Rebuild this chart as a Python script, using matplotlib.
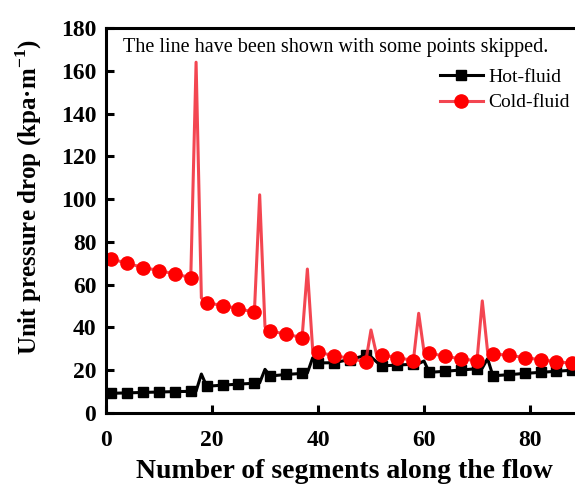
import matplotlib
matplotlib.use("Agg")
import matplotlib.pyplot as plt

plt.rcParams['font.family'] = 'Liberation Serif'
plt.rcParams['mathtext.fontset'] = 'custom'
plt.rcParams['mathtext.rm'] = 'Liberation Serif:bold'
plt.rcParams['mathtext.bf'] = 'Liberation Serif:bold'

# segment index of every vertex on the drawn lines (markers sit on every 3rd segment)
hot_x = [1, 4, 7, 10, 13, 16, 17, 18, 19, 22, 25, 28, 29, 30, 31, 34, 37, 38, 39,
         40, 43, 46, 49, 50, 51, 52, 55, 58, 59, 60, 61, 64, 67, 70, 71, 72,
         73, 76, 79, 82, 85, 88]
hot_y = [9.2, 9.4, 9.6, 9.8, 10.0, 10.1, 10.2, 18.2, 12.5, 13.0, 13.5, 13.9, 14.1, 20.4,
         17.3, 18.0, 18.5, 18.7, 25.8, 23.4, 23.5, 25.0, 26.9, 26.3, 24.0, 22.0,
         22.4, 22.8, 23.1, 24.3, 19.0, 19.5, 20.1, 20.7, 21.0, 25.4,
         17.4, 17.9, 18.5, 19.0, 19.5, 20.0]

cold_x = [1, 4, 7, 10, 13, 16, 17, 18, 19, 22, 25, 28, 29, 30, 31, 34, 37, 38, 39,
          40, 43, 46, 49, 50, 51, 52, 55, 58, 59, 60, 61, 64, 67, 70, 71, 72,
          73, 76, 79, 82, 85, 88]
cold_y = [72.0, 70.0, 68.0, 66.6, 65.0, 63.3, 164.0, 53.8, 51.6, 50.2, 48.8, 47.1, 102.0, 40.4,
          38.3, 36.9, 35.2, 67.3, 29.5, 28.4, 26.8, 25.6, 23.8, 38.8, 27.9, 27.1,
          25.9, 24.5, 46.6, 28.7, 27.9, 26.6, 25.2, 24.5, 52.4, 28.7,
          27.6, 27.0, 25.9, 24.9, 24.0, 23.2]

hot_marks = [i for i, s in enumerate(hot_x) if s % 3 == 1]
cold_marks = [i for i, s in enumerate(cold_x) if s % 3 == 1]

fig = plt.figure(figsize=(5.75, 4.91), dpi=100)
# right spine falls just outside the canvas
ax = fig.add_axes([0.1843, 0.1589, 0.8296, 0.7841])

ax.plot(hot_x, hot_y, color='black', lw=2.2, marker='s', ms=7.5,
        markevery=hot_marks, label='Hot-fluid')
ax.plot(cold_x, cold_y, color=(0.95, 0.15, 0.2, 0.85), lw=2.2, marker='o', ms=9.5,
        mfc='red', mec='red', markevery=cold_marks, label='Cold-fluid')

ax.set_xlim(0, 90)
ax.set_ylim(0, 180)
ax.set_xticks([0, 20, 40, 60, 80])
ax.set_yticks(range(0, 181, 20))

for sp in ax.spines.values():
    sp.set_linewidth(2.2)
ax.tick_params(direction='in', length=6, width=2.2, labelsize=17, pad=7)
ax.tick_params(axis='x', pad=12)
for lab in ax.get_xticklabels() + ax.get_yticklabels():
    lab.set_fontweight('bold')

ax.set_xlabel('Number of segments along the flow', fontsize=20, fontweight='bold', labelpad=6)
fig.text(29 / 575, 1 - 197 / 491, 'Unit pressure drop (kpa·m$^{-1}$)', fontsize=18,
         fontweight='bold', rotation=90, ha='center', va='center')

ax.text(0.036, 0.95, 'The line have been shown with some points skipped.',
        transform=ax.transAxes, fontsize=14.5, va='center', ha='left')

ax.legend(loc='upper left', bbox_to_anchor=(0.684, 0.915), frameon=False, fontsize=14,
          handlelength=2.2, handletextpad=0.3, labelspacing=0.4, borderaxespad=0)

fig.savefig('out.png', dpi=100)
